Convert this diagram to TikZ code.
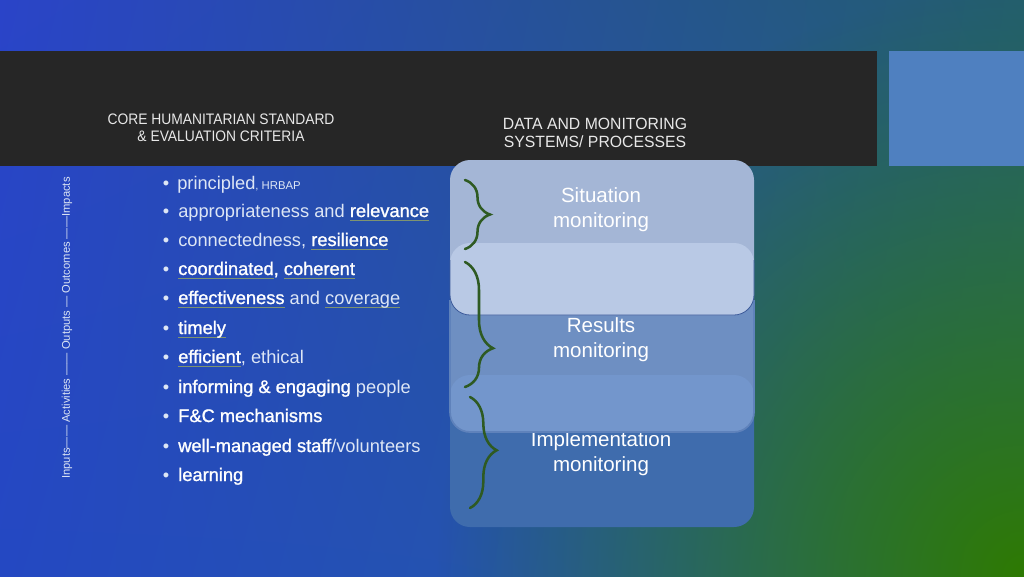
\documentclass[tikz,border=0pt]{standalone}
\usepackage{fontspec}
\setmainfont{Liberation Sans}
\newfontfamily\hdrfont[FakeStretch=0.91]{Liberation Sans}
\newfontfamily\hdrfontb[FakeStretch=0.97]{Liberation Sans}
\newfontfamily\medfont[FakeBold=1.2]{Liberation Sans}
\usetikzlibrary{decorations.pathreplacing,shadings,fadings}
\definecolor{bgUL}{HTML}{2A44C8}
\definecolor{bgUR}{HTML}{235E6E}
\definecolor{bgLL}{HTML}{2448C2}
\definecolor{bgLR}{HTML}{25609A}
\definecolor{bggreen}{HTML}{2E7A02}
\definecolor{bandcol}{HTML}{262626}
\definecolor{sqcol}{HTML}{4F80C0}
\definecolor{hdrtext}{HTML}{E8E8E8}
\definecolor{crittext}{HTML}{DDE6F5}
\definecolor{ulcol}{HTML}{7F9470}
\definecolor{acol}{HTML}{A4B6D6}
\definecolor{abcol}{HTML}{B9C9E5}
\definecolor{bcol}{HTML}{6E8FC2}
\definecolor{bccol}{HTML}{7396CC}
\definecolor{ccol}{HTML}{3F6CAD}
\definecolor{edgecol}{HTML}{3C5A9A}
\definecolor{bedge}{HTML}{5F82BB}
\definecolor{bracecol}{HTML}{2E5A22}
\tikzfading[name=greenfade, inner color=transparent!0, outer color=transparent!100]
\newcommand\hl[1]{{\medfont\color{white}#1}}
\newcommand\squig[1]{\setbox0\hbox{#1}\rlap{\color{ulcol}\rule[-3pt]{\wd0}{0.6pt}}\box0}
\tikzset{
  crit/.style={anchor=base west, inner sep=0pt, text=crittext, font=\fontsize{13.7}{16}\selectfont},
  bul/.style={anchor=base, inner sep=0pt, text=crittext, font=\fontsize{13.7}{16}\selectfont},
  hdr/.style={anchor=base, inner sep=0pt, text=hdrtext},
  mon/.style={anchor=base, inner sep=0pt, text=white, font=\fontsize{15.4}{18}\selectfont},
  brc/.style={draw=bracecol, line width=1.9pt, line cap=round, decorate},
  panel/.style={rounded corners=15pt},
}
\begin{document}
\begin{tikzpicture}[x=0.75pt,y=-0.75pt]
\useasboundingbox (0,0) rectangle (1024,576);
% background
\shade[upper left=bgUL, upper right=bgUR, lower left=bgLL, lower right=bgLR] (0,0) rectangle (1024,576);
\begin{scope}
  \clip (0,0) rectangle (1024,576);
  \fill[bggreen, path fading=greenfade] (1024,576) circle[radius=440pt];
\end{scope}
% title band and square
\fill[bandcol] (0,51) rectangle (877,166);
\fill[sqcol] (889,51) rectangle (1024,166);
% headers
\node[hdr, font=\hdrfont\fontsize{11.4}{13}\selectfont] (h1a) at (221,124) {CORE HUMANITARIAN STANDARD};
\node[hdr, font=\hdrfont\fontsize{11.4}{13}\selectfont] (h1b) at (221,141) {\& EVALUATION CRITERIA};
\node[hdr, font=\hdrfontb\fontsize{12.2}{14}\selectfont] (h2a) at (595,129) {DATA AND MONITORING};
\node[hdr, font=\hdrfontb\fontsize{12.2}{14}\selectfont] (h2b) at (595,147) {SYSTEMS/ PROCESSES};
% vertical chain
\node[rotate=90, inner sep=0pt, text=crittext, font=\fontsize{8.4}{10}\selectfont] (chain) at (67,328)
  {Inputs—— Activities —— Outputs — Outcomes ——Impacts};
% criteria list
\foreach \yy/\nm in {189/1,217/2,246/3,275/4,304/5,334/6,363/7,393/8,422/9,452/10,481/11}
  \node[bul] (bul\nm) at (166,\yy) {\textbullet};
\node[crit] (c1) at (177,189) {principled{\fontsize{8.5}{10}\selectfont, HRBAP}};
\node[crit] (c2) at (178,217) {appropriateness and \hl{\squig{relevance}}};
\node[crit] (c3) at (178,246) {connectedness, \hl{\squig{resilience}}};
\node[crit] (c4) at (178,275) {\hl{\squig{coordinated}, \squig{coherent}}};
\node[crit] (c5) at (178,304) {\hl{\squig{effectiveness}} and \squig{coverage}};
\node[crit] (c6) at (178,334) {\hl{\squig{timely}}};
\node[crit] (c7) at (178,363) {\hl{\squig{efficient}}, ethical};
\node[crit] (c8) at (178,393) {\hl{informing \& engaging} people};
\node[crit] (c9) at (178,422) {\hl{F\&C mechanisms}};
\node[crit] (c10) at (178,452) {\hl{well-managed staff}/volunteers};
\node[crit] (c11) at (178,481) {\hl{learning}};
% panel C
\fill[ccol, panel] (450,375) rectangle (754,527);
% panel B
\fill[bcol, panel] (450,243) rectangle (754,432);
\begin{scope}
  \clip[panel] (450,243) rectangle (754,432);
  \fill[bccol, panel] (450,375) rectangle (754,527);
\end{scope}
\node[mon] (imp1) at (601,446) {Implementation};
\node[mon] (imp2) at (601,471) {monitoring};
\draw[bedge, line width=1.3pt, panel] (450,300) -- (450,432) -- (754,432) -- (754,300);
\node[mon] (res1) at (601,332) {Results};
\node[mon] (res2) at (601,357) {monitoring};
% panel A
\fill[acol, panel] (450,160) rectangle (754,315);
\begin{scope}
  \clip[panel] (450,160) rectangle (754,315);
  \fill[abcol, panel] (450,243) rectangle (754,432);
\end{scope}
\draw[edgecol, line width=0.6pt, panel] (450,260) -- (450,315) -- (754,315) -- (754,260);
\node[mon] (sit1) at (601,202) {Situation};
\node[mon] (sit2) at (601,227) {monitoring};
% braces
\draw[brc, decoration={brace, amplitude=18.75pt, aspect=0.5}] (465,180) -- (465,249);
\draw[brc, decoration={brace, amplitude=21pt, aspect=0.69}] (465,262) -- (465,387);
\draw[brc, decoration={brace, amplitude=20pt, aspect=0.48}] (470,397) -- (470,508);
\end{tikzpicture}
\end{document}
